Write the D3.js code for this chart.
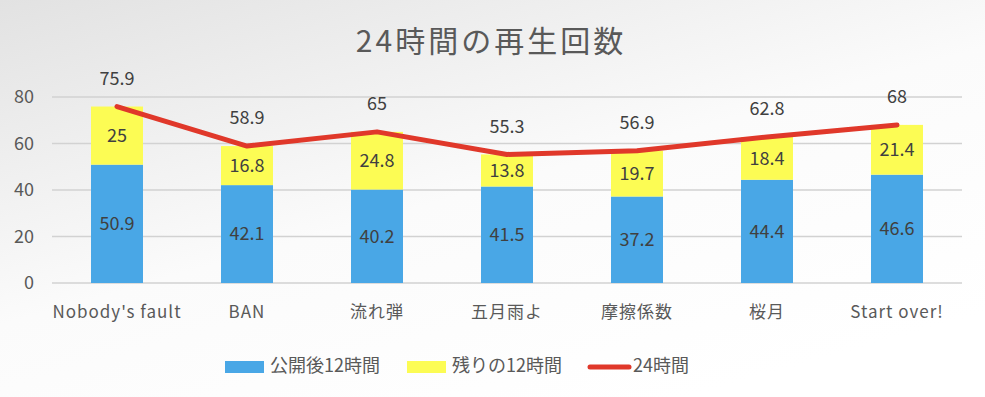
<!DOCTYPE html>
<html>
<head>
<meta charset="utf-8">
<script src="https://cdn.jsdelivr.net/npm/d3@7"></script>
<style>
  body { margin: 0; }
  svg { display: block; font-family: "Noto Sans CJK JP", "Noto Sans", sans-serif; }
</style>
</head>
<body>
<div id="chart"></div>
<script>
// Chart data
const categories = ["Nobody's fault", "BAN", "流れ弾", "五月雨よ", "摩擦係数", "桜月", "Start over!"];
const first12 = [50.9, 42.1, 40.2, 41.5, 37.2, 44.4, 46.6];
const rest12 = [25, 16.8, 24.8, 13.8, 19.7, 18.4, 21.4];
const total24 = [75.9, 58.9, 65, 55.3, 56.9, 62.8, 68];
const yTicks = [0, 20, 40, 60, 80];
const seriesNames = ["公開後12時間", "残りの12時間", "24時間"];

const width = 985;
const height = 397;
const margin = { left: 52, right: 23, top: 97, bottom: 114 };

const svg = d3.select("#chart")
    .append("svg")
    .attr("width", width)
    .attr("height", height);

// Background gradient
const defs = svg.append("defs");
const grad = defs.append("linearGradient")
    .attr("id", "bg")
    .attr("x1", "0%").attr("y1", "0%")
    .attr("x2", "70%").attr("y2", "100%");
grad.append("stop").attr("offset", "0%").attr("stop-color", "#e2e2e2");
grad.append("stop").attr("offset", "55%").attr("stop-color", "#fbfbfb");
grad.append("stop").attr("offset", "100%").attr("stop-color", "#ffffff");

svg.append("rect")
    .attr("width", width)
    .attr("height", height)
    .attr("fill", "url(#bg)");

// Scales
const x = d3.scaleBand()
    .domain(categories)
    .range([margin.left, width - margin.right])
    .paddingInner(0.6)
    .paddingOuter(0.3);

const y = d3.scaleLinear()
    .domain([0, 80])
    .range([height - margin.bottom, margin.top]);

const cx = d => x(d) + x.bandwidth() / 2;

// Title
svg.append("text")
    .attr("x", 491)
    .attr("y", 52)
    .attr("text-anchor", "middle")
    .attr("fill", "#595959")
    .style("font-size", "30px")
    .style("letter-spacing", "3px")
    .text("24時間の再生回数");

// Gridlines and y labels
svg.append("g")
    .selectAll("line")
    .data(yTicks)
    .join("line")
    .attr("x1", margin.left)
    .attr("x2", width - margin.right)
    .attr("y1", d => y(d))
    .attr("y2", d => y(d))
    .attr("stroke", "#d2d2d2")
    .attr("stroke-width", 1.5);

svg.append("g")
    .selectAll("text")
    .data(yTicks)
    .join("text")
    .attr("x", 34)
    .attr("y", d => y(d))
    .attr("dy", "0.35em")
    .attr("text-anchor", "end")
    .attr("fill", "#595959")
    .style("font-size", "18px")
    .text(d => d);

// Stacked bars
const blue = "#49a7e6";
const yellow = "#fcfc54";
const red = "#e0382a";

svg.append("g")
    .selectAll("rect")
    .data(categories)
    .join("rect")
    .attr("x", d => x(d))
    .attr("width", x.bandwidth())
    .attr("y", (d, i) => y(first12[i]))
    .attr("height", (d, i) => y(0) - y(first12[i]))
    .attr("fill", blue);

svg.append("g")
    .selectAll("rect")
    .data(categories)
    .join("rect")
    .attr("x", d => x(d))
    .attr("width", x.bandwidth())
    .attr("y", (d, i) => y(first12[i] + rest12[i]))
    .attr("height", (d, i) => y(first12[i]) - y(first12[i] + rest12[i]))
    .attr("fill", yellow);

// Segment labels
svg.append("g")
    .selectAll("text")
    .data(categories)
    .join("text")
    .attr("x", d => cx(d))
    .attr("y", (d, i) => y(first12[i] / 2))
    .attr("dy", "0.35em")
    .attr("text-anchor", "middle")
    .attr("fill", "#404040")
    .style("font-size", "18px")
    .text((d, i) => first12[i]);

svg.append("g")
    .selectAll("text")
    .data(categories)
    .join("text")
    .attr("x", d => cx(d))
    .attr("y", (d, i) => y(first12[i] + rest12[i] / 2))
    .attr("dy", "0.35em")
    .attr("text-anchor", "middle")
    .attr("fill", "#404040")
    .style("font-size", "18px")
    .text((d, i) => rest12[i]);

// Total line
const line = d3.line()
    .x((d, i) => cx(categories[i]))
    .y(d => y(d));

svg.append("path")
    .datum(total24)
    .attr("d", line)
    .attr("fill", "none")
    .attr("stroke", red)
    .attr("stroke-width", 5)
    .attr("stroke-linecap", "round")
    .attr("stroke-linejoin", "round");

svg.append("g")
    .selectAll("text")
    .data(total24)
    .join("text")
    .attr("x", (d, i) => cx(categories[i]))
    .attr("y", d => y(d) - 28)
    .attr("dy", "0.35em")
    .attr("text-anchor", "middle")
    .attr("fill", "#404040")
    .style("font-size", "18px")
    .text(d => d);

// Category labels
svg.append("g")
    .selectAll("text")
    .data(categories)
    .join("text")
    .attr("x", d => cx(d))
    .attr("y", 312)
    .attr("dy", "0.35em")
    .attr("text-anchor", "middle")
    .attr("fill", "#595959")
    .style("font-size", "17px")
    .style("letter-spacing", "1px")
    .text(d => d);

// Legend
const legendItems = [
    { name: seriesNames[0], x: 225, type: "rect", color: blue },
    { name: seriesNames[1], x: 407, type: "rect", color: yellow },
    { name: seriesNames[2], x: 588, type: "line", color: red }
];

const legend = svg.append("g");
legendItems.forEach(item => {
    if (item.type === "rect") {
        legend.append("rect")
            .attr("x", item.x)
            .attr("y", 361)
            .attr("width", 39)
            .attr("height", 12)
            .attr("fill", item.color);
    } else {
        legend.append("line")
            .attr("x1", item.x + 2)
            .attr("x2", item.x + 41)
            .attr("y1", 367)
            .attr("y2", 367)
            .attr("stroke", item.color)
            .attr("stroke-width", 5)
            .attr("stroke-linecap", "round");
    }
    legend.append("text")
        .attr("x", item.x + 45)
        .attr("y", 366)
        .attr("dy", "0.35em")
        .attr("fill", "#595959")
        .style("font-size", "18px")
        .text(item.name);
});
</script>
</body>
</html>
